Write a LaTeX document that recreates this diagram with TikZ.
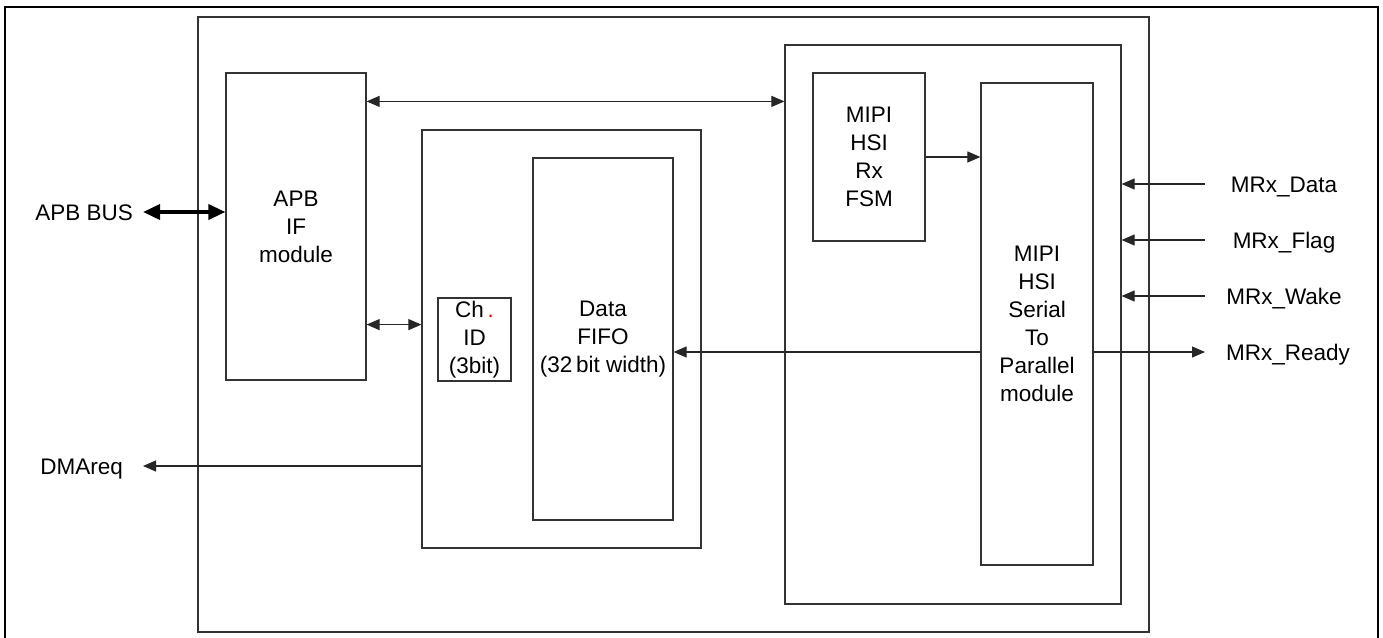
\documentclass[tikz,border=0pt]{standalone}
\usepackage{fontspec}
\setmainfont{Liberation Sans}
\usetikzlibrary{arrows.meta}

\newcommand{\blkfont}{\fontsize{22.5}{28}\selectfont}

\tikzset{
  blk/.style={draw=black!80, line width=1.2pt, inner sep=0pt, align=center, font=\blkfont},
  lbl/.style={font=\blkfont, inner sep=0pt, text height=16pt, text depth=0pt},
  sig/.style={draw=black!85, line width=1.1pt, -{Triangle[length=13pt,width=11pt]}},
  twoway/.style={{Triangle[length=13pt,width=11pt]}-{Triangle[length=13pt,width=11pt]}},
  bus/.style={line width=3.5pt, {Triangle[length=17pt,width=15pt]}-{Triangle[length=17pt,width=15pt]}},
}

\begin{document}
\begin{tikzpicture}[x=1pt, y=-1pt]
  \useasboundingbox (0,0) rectangle (1383,637);
  % outer frame
  \draw[line width=2.4pt] (5,7) rectangle (1378,642);

  % blocks
  \node[blk, minimum width=951pt, minimum height=615pt] (chip) at (673.5,324.5) {};
  \node[blk, minimum width=140pt, minimum height=307pt] (apb) at (296,226.5) {APB\\IF\\module};
  \node[blk, minimum width=279pt, minimum height=418pt] (fifowrap) at (561.5,339) {};
  \node[blk, minimum width=140pt, minimum height=362pt] (fifo) at (603,339) {Data\\FIFO\\(32\,bit width)};
  \node[blk, minimum width=73pt, minimum height=83pt] (chid) at (474.5,339.5) {Ch\,\textcolor{red}{.}\\ID\\(3bit)};
  \node[blk, minimum width=336pt, minimum height=559pt] (rxwrap) at (953,324.5) {};
  \node[blk, minimum width=112pt, minimum height=168pt] (fsm) at (869,157) {MIPI\\HSI\\Rx\\FSM};
  \node[blk, minimum width=112pt, minimum height=482pt] (s2p) at (1037,324) {MIPI\\HSI\\Serial\\To\\Parallel\\module};

  % left side
  \node[lbl, anchor=east] (apbbus) at (133,212) {APB BUS};
  \node[lbl, anchor=east] (dmareq) at (123,466) {DMAreq};
  \coordinate (tipx) at (143,0);
  \draw[bus] (tipx |- apbbus) -- (apb.west |- apbbus);
  \draw[sig] (fifowrap.west |- dmareq) -- (tipx |- dmareq);

  % inside
  \draw[sig, twoway] ([yshift=-29pt]apb.north east) coordinate (c1) -- (c1 -| rxwrap.west);
  \draw[sig, twoway] ([yshift=56pt]apb.south east) coordinate (c2) -- (c2 -| fifowrap.west);
  \draw[sig] (fsm.east) -- (fsm.east -| s2p.west);
  \draw[sig] ([yshift=-28pt]s2p.west) coordinate (c3) -- (c3 -| fifo.east);

  % right side
  \coordinate (inx) at (1205,0);
  \foreach \nm/\yy/\txt in {data/184/MRx\_Data, flag/240/MRx\_Flag, wake/296/MRx\_Wake} {
    \node[lbl] (mrx\nm) at (1284,\yy) {\txt};
    \draw[sig] (inx |- mrx\nm) -- (rxwrap.east |- mrx\nm);
  }
  \node[lbl] (mrxready) at (1288,352) {MRx\_Ready};
  \draw[sig] (s2p.east |- c3) -- (inx |- mrxready);
\end{tikzpicture}
\end{document}
